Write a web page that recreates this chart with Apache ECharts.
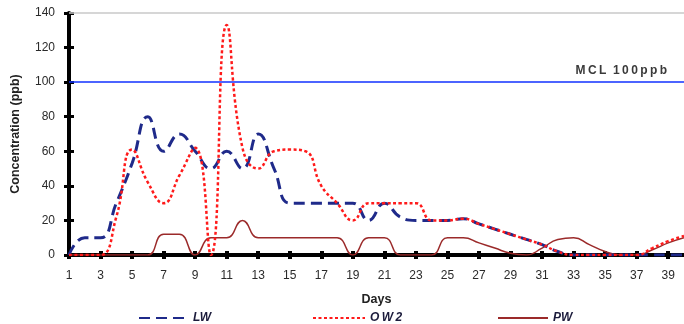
<!DOCTYPE html>
<html>
<head>
<meta charset="utf-8">
<script src="https://cdn.jsdelivr.net/npm/echarts@6/dist/echarts.min.js"></script>
<style>
  html, body { margin: 0; padding: 0; background: #fff; }
  #chart { width: 684px; height: 324px; }
</style>
</head>
<body>
<div id="chart"></div>
<script>
// days 1..40, one value per day (ppb)
const days = Array.from({ length: 40 }, (_, i) => String(i + 1));
const lw  = [0, 10, 10, 30, 53, 80, 60, 70, 60, 50, 60, 50, 70, 50, 30, 30, 30, 30, 30, 20,
             30, 22, 20, 20, 20, 21, 18, 15, 12, 9, 6, 2, 0, 0, 0, 0, 0, 0, 0, 0];
const ow2 = [0, 0, 0, 22, 61, 42, 30, 46, 62, 0, 133, 62, 50, 60, 61, 60, 40, 30, 20, 30,
             30, 30, 30, 20, 20, 21, 18, 15, 12, 9, 6, 2, 0, 0, 0, 0, 0, 4, 8, 11];
const pw  = [0, 0, 0, 0, 0, 0, 12, 12, 0, 10, 10, 20, 10, 10, 10, 10, 10, 10, 0, 10,
             10, 0, 0, 0, 10, 10, 7, 4, 1, 0, 4, 9, 10, 6, 2, 0, 0, 3, 7, 10];
const mcl = 100;
const yTicks = [0, 20, 40, 60, 80, 100, 120, 140];

const chart = echarts.init(document.getElementById('chart'));

// small letter spacing for a few labels (zrender has no letterSpacing)
const spaced = (s, gap) => s.split('').join(gap || '\u2009');

const legendText = {
  fontFamily: 'Liberation Sans',
  fontSize: 12,
  fontWeight: 'bold',
  fontStyle: 'italic',
  color: '#1c1c3c'
};
const legendBase = {
  top: 312,
  padding: 0,
  itemHeight: 10,
  itemStyle: { opacity: 0 },
  textStyle: legendText
};

const option = {
  animation: false,
  backgroundColor: '#fff',
  grid: { left: 69, right: -5, top: 13, bottom: 69 },
  legend: [
    Object.assign({}, legendBase, { data: ['LW'], left: 138, itemWidth: 49 }),
    Object.assign({}, legendBase, { data: ['OW2'], left: 312, itemWidth: 52, formatter: n => spaced(n) }),
    Object.assign({}, legendBase, { data: ['PW'], left: 497, itemWidth: 50 })
  ],
  xAxis: [
    {
      type: 'category',
      data: days,
      boundaryGap: false,
      name: 'Days',
      nameLocation: 'middle',
      nameGap: 38,
      nameTextStyle: { fontFamily: 'Liberation Sans', fontSize: 12.5, fontWeight: 'bold', color: '#222' },
      axisLine: { lineStyle: { color: '#000', width: 4 } },
      axisTick: { interval: 1, length: 4, lineStyle: { color: '#000', width: 4 } },
      axisLabel: { interval: 1, margin: 15, fontFamily: 'Liberation Sans', fontSize: 12, color: '#2a2a2a' },
      splitLine: { show: false }
    },
    {
      type: 'category',
      data: days,
      boundaryGap: false,
      position: 'bottom',
      axisLine: { show: false },
      axisTick: { inside: true, interval: 1, length: 4, lineStyle: { color: '#000', width: 4 } },
      axisLabel: { show: false },
      splitLine: { show: false }
    }
  ],
  yAxis: [
    {
      type: 'value',
      min: 0,
      max: 140,
      interval: 20,
      name: 'Concentration (ppb)',
      nameLocation: 'middle',
      nameGap: 47,
      nameTextStyle: { fontFamily: 'Liberation Sans', fontSize: 12.5, fontWeight: 'bold', color: '#222' },
      axisLine: { show: true, lineStyle: { color: '#000', width: 4 } },
      axisTick: { show: true, length: 5, lineStyle: { color: '#000', width: 3 } },
      axisLabel: {
        margin: 14, fontFamily: 'Liberation Sans', fontSize: 12, color: '#2a2a2a',
        formatter: v => (yTicks.includes(v) ? String(v) : '')
      },
      splitLine: { show: false }
    },
    {
      type: 'value',
      min: 0,
      max: 140,
      interval: 20,
      position: 'left',
      axisLine: { show: false },
      axisTick: { show: true, inside: true, length: 5, lineStyle: { color: '#000', width: 3 } },
      axisLabel: { show: false },
      splitLine: { show: false }
    }
  ],
  series: [
    {
      name: 'LW',
      type: 'line',
      data: lw,
      smooth: 0.5,
      symbol: 'none',
      z: 3,
      lineStyle: { color: '#1f2a8a', width: 3, type: [11, 6] },
      itemStyle: { color: '#1f2a8a' },
      markLine: {
        silent: true,
        symbol: 'none',
        animation: false,
        data: [
          {
            yAxis: mcl,
            lineStyle: { color: '#1030ff', width: 1.5, type: 'solid' },
            label: {
              show: true,
              position: 'insideEndTop',
              formatter: spaced('MCL') + '  ' + spaced('100ppb'),
              padding: [0, 12, 0, 0],
              fontFamily: 'Liberation Sans',
              fontSize: 12,
              fontWeight: 'bold',
              color: '#3a3a3a'
            }
          },
          {
            yAxis: 140,
            lineStyle: { color: '#c8c8c8', width: 1.5, type: 'solid' },
            label: { show: false }
          }
        ]
      }
    },
    {
      name: 'OW2',
      type: 'line',
      data: ow2,
      smooth: 0.5,
      symbol: 'none',
      z: 4,
      lineStyle: { color: '#ff1a1a', width: 2.5, type: [3, 2.5] },
      itemStyle: { color: '#ff1a1a' }
    },
    {
      name: 'PW',
      type: 'line',
      data: pw,
      smooth: 0.5,
      symbol: 'none',
      z: 2,
      lineStyle: { color: '#9b2a2a', width: 1.5, type: 'solid' },
      itemStyle: { color: '#9b2a2a' }
    }
  ]
};

chart.setOption(option);
</script>
</body>
</html>
